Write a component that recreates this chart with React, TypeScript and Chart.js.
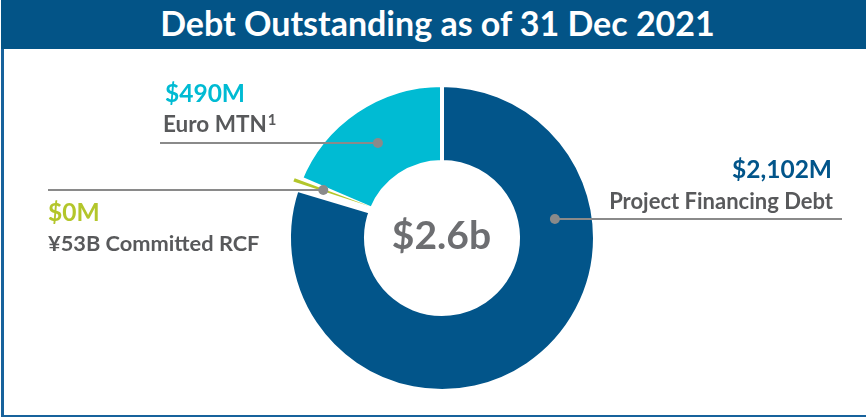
import React, { useEffect, useRef } from 'react';
import { Chart, registerables } from 'chart.js';

Chart.register(...registerables);

// ---- data ----
const title = 'Debt Outstanding as of 31 Dec 2021';
const categories = ['Project Financing Debt', '¥53B Committed RCF', 'Euro MTN'];
const valuesM = [2102, 0, 490];
const valueLabels = ['$2,102M', '$0M', '$490M'];
const totalLabel = '$2.6b';
const sliceColors = ['#02558A', '#B3C62B', '#00BBD3'];

const FONT = 'Lato, "Open Sans", sans-serif';
const GRAY_TEXT = '#58595B';
const LEADER = '#8A8A8A';

const DEG = Math.PI / 180;

const decorPlugin = {
  id: 'decor',
  afterDatasetsDraw(chart: any) {
    const ctx = chart.ctx as CanvasRenderingContext2D;
    const meta = chart.getDatasetMeta(0);
    const arcs = meta.data as any[];
    const cx = arcs[0].x;
    const cy = arcs[0].y;
    const R = arcs[0].outerRadius;
    const r0 = arcs[0].innerRadius;
    const pt = (ang: number, rad: number) => [cx + Math.cos(ang) * rad, cy + Math.sin(ang) * rad];

    // zero-value slice: white gap + thin green sliver
    const th = arcs[1].startAngle;
    ctx.save();
    ctx.fillStyle = '#ffffff';
    ctx.beginPath();
    let p = pt(th - 4.3 * DEG, R + 3); ctx.moveTo(p[0], p[1]);
    p = pt(th + 1.7 * DEG, R + 3); ctx.lineTo(p[0], p[1]);
    p = pt(th + 2.1 * DEG, r0 - 2); ctx.lineTo(p[0], p[1]);
    p = pt(th - 3.3 * DEG, r0 - 2); ctx.lineTo(p[0], p[1]);
    ctx.closePath();
    ctx.fill();

    const outA = th - 0.5 * DEG;
    const outR = R + 6;
    const o = pt(outA, outR);
    const nx = -Math.sin(outA);
    const ny = Math.cos(outA);
    const tip = pt(th + 1.7 * DEG, r0 + 3);
    ctx.fillStyle = sliceColors[1];
    ctx.beginPath();
    ctx.moveTo(o[0] + nx * 1.8, o[1] + ny * 1.8);
    ctx.lineTo(o[0] - nx * 1.8, o[1] - ny * 1.8);
    ctx.lineTo(tip[0], tip[1]);
    ctx.closePath();
    ctx.fill();

    // leader lines
    const leaders = [
      { idx: 0, sweep: 0.275, radial: 0.5, endX: 842 },
      { idx: 1, sweep: 0, radial: 0.675, endX: 48 },
      { idx: 2, sweep: 0.5, radial: 0.5, endX: 160 },
    ];
    ctx.strokeStyle = LEADER;
    ctx.fillStyle = LEADER;
    ctx.lineWidth = 2;
    leaders.forEach((l) => {
      const a = arcs[l.idx];
      const ang = a.startAngle + (a.endAngle - a.startAngle) * l.sweep;
      const rad = a.innerRadius + (a.outerRadius - a.innerRadius) * l.radial;
      const d = pt(ang, rad);
      const y = Math.round(d[1]);
      ctx.beginPath();
      ctx.moveTo(d[0], y);
      ctx.lineTo(l.endX, y);
      ctx.stroke();
      ctx.beginPath();
      ctx.arc(d[0], y, 5, 0, Math.PI * 2);
      ctx.fill();
    });
    ctx.restore();
  },
};

function Label(props: { text: React.ReactNode; size: number; color: string; baseline: number; left?: number; right?: number; center?: number }) {
  const { text, size, color, baseline, left, right, center } = props;
  const style: React.CSSProperties = {
    position: 'absolute',
    top: baseline - 0.887 * size,
    fontFamily: FONT,
    fontWeight: 700,
    fontSize: size,
    lineHeight: `${size}px`,
    color,
    whiteSpace: 'nowrap',
  };
  if (left !== undefined) style.left = left;
  if (right !== undefined) { style.right = 866 - right; style.textAlign = 'right'; }
  if (center !== undefined) { style.left = center - 400; style.width = 800; style.textAlign = 'center'; }
  return <div style={style}>{text}</div>;
}

export default function App() {
  const canvasRef = useRef<HTMLCanvasElement>(null);

  useEffect(() => {
    const chart = new Chart(canvasRef.current as HTMLCanvasElement, {
      type: 'doughnut',
      data: {
        labels: categories,
        datasets: [
          {
            data: valuesM,
            backgroundColor: sliceColors,
            borderColor: '#ffffff',
            borderWidth: 4,
            hoverOffset: 0,
          },
        ],
      },
      options: {
        animation: false,
        responsive: false,
        maintainAspectRatio: false,
        cutout: '49.7%',
        layout: { padding: { left: 18, right: 0, top: 34, bottom: 22 } },
        plugins: { legend: { display: false }, tooltip: { enabled: false } },
        events: [],
      },
      plugins: [decorPlugin],
    });
    return () => chart.destroy();
  }, []);

  return (
    <div style={{ position: 'fixed', left: 0, top: 0, width: 866, height: 417, background: '#ffffff', overflow: 'hidden' }}>
      <div style={{ position: 'absolute', left: 1, top: 0, width: 865, height: 49, background: '#035487' }} />
      <div style={{ position: 'absolute', left: 1, top: 49, width: 3, height: 368, background: '#17629C' }} />
      <div style={{ position: 'absolute', left: 1, top: 415, width: 865, height: 2, background: '#17629C' }} />
      <canvas ref={canvasRef} width={866} height={366} style={{ position: 'absolute', left: 0, top: 49, width: 866, height: 366 }} />
      <Label text={title} size={34} color="#ffffff" baseline={36} center={437.5} />
      <Label text={valueLabels[2]} size={24.5} color={sliceColors[2]} baseline={103} left={165} />
      <Label text={<span>{categories[2]}<span style={{ fontSize: '0.66em', position: 'relative', top: '-0.5em', marginLeft: 1 }}>1</span></span>} size={22.5} color={GRAY_TEXT} baseline={133} left={163} />
      <Label text={valueLabels[1]} size={24.5} color={sliceColors[1]} baseline={221.5} left={48} />
      <Label text={categories[1]} size={21.8} color={GRAY_TEXT} baseline={251.5} left={48} />
      <Label text={valueLabels[0]} size={24.5} color={sliceColors[0]} baseline={179} right={832} />
      <Label text={categories[0]} size={22} color={GRAY_TEXT} baseline={210} right={833} />
      <Label text={totalLabel} size={39} color="#6D6E71" baseline={250} center={441.5} />
    </div>
  );
}
